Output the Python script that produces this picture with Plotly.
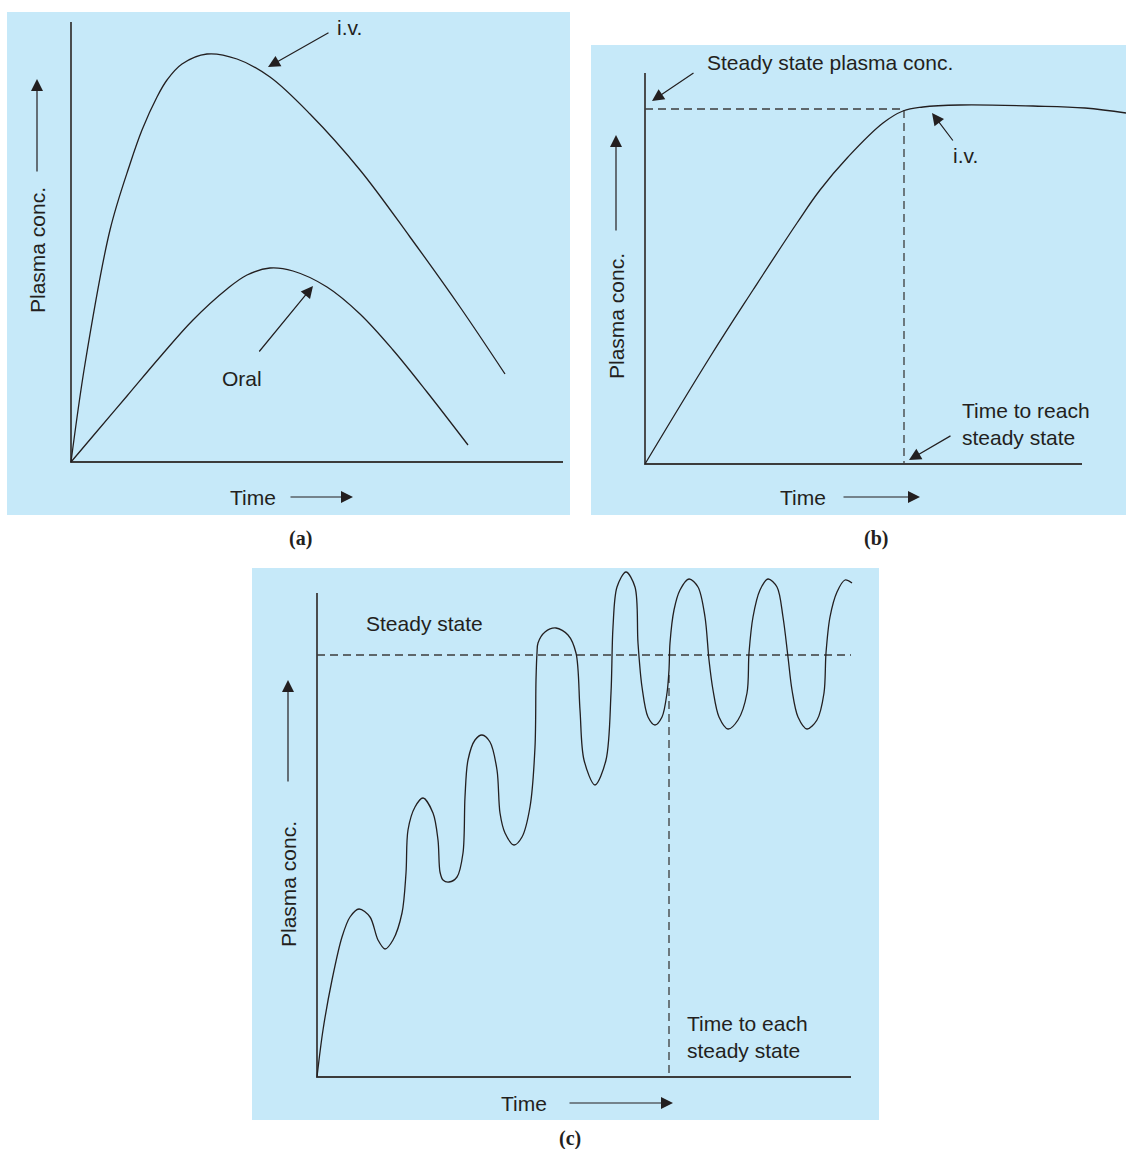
import plotly.graph_objects as go

W, H = 1126, 1149
INK = "#231f20"
AXIS = "#3c3c3c"
BLUE = "#c6e9f9"
SANS = "Liberation Sans, Arial, sans-serif"
SERIF = "Liberation Serif, Times New Roman, serif"

# ---------------- data (arbitrary units) ----------------
# Panel (a): single dose, i.v. vs oral
a_iv_time = [0, 1.4, 3.9, 5.9, 7.1, 8.6, 9.6, 11.1, 13.6, 16.6, 19.9, 23.9, 28.9, 33.9, 38.9, 43.4]
a_iv_conc = [0, 9.8, 23.2, 29.8, 33.2, 36.5, 38.2, 39.8, 40.8, 40.3, 38.5, 34.8, 29.2, 22.5, 15.5, 8.8]
a_oral_time = [0, 2.2, 5.6, 8.9, 12.2, 15.6, 17.6, 19.9, 22.2, 25.6, 28.9, 32.2, 35.6, 39.7]
a_oral_conc = [0, 2.6, 6.6, 10.5, 14.2, 17.3, 18.7, 19.4, 19.1, 17.5, 14.8, 11.2, 7.0, 1.7]
a_time_max = 49.2
a_conc_max = 44.0

# Panel (b): constant i.v. infusion
b_time = [0, 6.5, 10.8, 15.2, 17.5, 20.3, 23.8, 25.8, 27.8, 31.5, 38.8, 44.0, 48.1]
b_conc = [0, 10.7, 17.4, 24.1, 27.4, 30.7, 34.1, 35.3, 35.7, 35.9, 35.8, 35.6, 35.1]
b_css = 35.5
b_tss = 25.9
b_time_max = 43.7
b_conc_max = 39.1

# Panel (c): repeated dosing
c_time = [0, 0.6, 1.5, 2.5, 3.3, 4.2, 5.3, 6.1, 6.8,
          7.6, 8.5, 8.9, 9.1, 9.8, 10.6, 11.6, 12.1, 12.3, 12.6, 13.2,
          14.0, 14.6, 14.8, 15.1, 15.8, 16.5, 17.3, 18.0, 18.3, 18.8, 19.7,
          20.5, 21.3, 21.8, 21.9, 22.0, 22.1, 22.8, 23.9, 25.1, 25.9, 26.3, 26.7, 27.8,
          28.9, 29.4, 29.6, 30.0, 30.9, 31.8, 32.1, 32.5, 33.1, 33.8,
          34.5, 35.0, 35.2, 35.3, 35.7, 36.3, 37.2, 38.1, 38.8, 39.2, 39.6, 40.2, 41.1,
          42.1, 43.0, 43.2, 43.6, 44.3, 45.1, 46.0, 46.6, 47.1, 47.5, 48.1, 49.0,
          50.0, 50.7, 50.9, 51.3, 52.0, 52.8, 53.5]
c_conc = [0, 4.7, 9.7, 14.0, 16.0, 16.8, 16.0, 13.7, 12.8,
          13.7, 16.4, 20.4, 24.7, 27.0, 27.9, 26.4, 23.7, 20.5, 19.7, 19.5,
          20.0, 22.4, 28.0, 31.7, 33.7, 34.2, 33.5, 30.7, 26.4, 24.4, 23.2,
          24.0, 27.0, 33.0, 39.7, 42.4, 43.4, 44.5, 44.9, 44.2, 42.4, 36.7, 31.7, 29.2,
          31.7, 38.4, 45.0, 49.0, 50.5, 49.0, 43.4, 39.0, 36.0, 35.2,
          36.0, 38.4, 40.7, 43.4, 46.7, 48.7, 49.8, 49.0, 46.0, 41.7, 38.7, 36.0, 34.8,
          35.7, 38.4, 42.4, 46.0, 48.7, 49.8, 49.0, 46.0, 42.0, 38.7, 36.0, 34.8,
          35.7, 38.4, 42.4, 46.0, 48.5, 49.7, 49.4]
c_css = 42.2
c_tss = 35.2
c_tss_top = 40.2
c_time_max = 53.4
c_conc_max = 48.4

# ---------------- layout geometry ----------------
# panel pixel boxes (left, top, right, bottom) and axis ranges
panels = {
    "": dict(box=(7, 12, 570, 515), xr=[-6.4, 49.9], yr=[-5.3, 45.0]),
    "2": dict(box=(591, 45, 1126, 515), xr=[-5.4, 48.1], yr=[-5.1, 41.9]),
    "3": dict(box=(252, 568, 879, 1120), xr=[-6.5, 56.2], yr=[-4.3, 50.9]),
}

fig = go.Figure()

def add_line(ref, x, y, color=INK, width=1.3, dash=None, shape="linear", smoothing=None):
    line = dict(color=color, width=width, shape=shape)
    if dash:
        line["dash"] = dash
    if smoothing is not None:
        line["smoothing"] = smoothing
    fig.add_trace(go.Scatter(x=x, y=y, mode="lines", line=line, hoverinfo="skip",
                             showlegend=False, xaxis="x" + ref, yaxis="y" + ref))

DASH = "8px,5px"

# Panel (a)
add_line("", [0, 0, a_time_max], [a_conc_max, 0, 0], color=AXIS, width=1.8)
add_line("", a_iv_time, a_iv_conc, shape="spline", smoothing=1.0)
add_line("", a_oral_time, a_oral_conc, shape="spline", smoothing=1.0)

# Panel (b)
add_line("2", [0, 0, b_time_max], [b_conc_max, 0, 0], color=AXIS, width=1.8)
add_line("2", [0, b_tss, b_tss], [b_css, b_css, 0], color=AXIS, width=1.3, dash=DASH)
add_line("2", b_time, b_conc, shape="spline", smoothing=1.1)

# Panel (c)
add_line("3", [0, 0, c_time_max], [c_conc_max, 0, 0], color=AXIS, width=1.8)
add_line("3", [0, c_time_max], [c_css, c_css], color=AXIS, width=1.3, dash=DASH)
add_line("3", [c_tss, c_tss], [c_tss_top, 0], color=AXIS, width=1.3, dash=DASH)
add_line("3", c_time, c_conc, shape="spline", smoothing=0.9)

annotations = []

def text(ref, x, y, s, xanchor="center", angle=0, align="center"):
    annotations.append(dict(xref="x" + ref, yref="y" + ref, x=x, y=y, text=s,
                            showarrow=False, xanchor=xanchor, yanchor="middle",
                            textangle=angle, align=align,
                            font=dict(family=SANS, size=21, color=INK)))

def arrow(ref, head, tail):
    annotations.append(dict(xref="x" + ref, yref="y" + ref, axref="x" + ref, ayref="y" + ref,
                            x=head[0], y=head[1], ax=tail[0], ay=tail[1], text="",
                            showarrow=True, arrowhead=2, arrowsize=2, arrowwidth=1.2,
                            arrowcolor=INK))

def caption(px, py, s):
    annotations.append(dict(xref="paper", yref="paper", x=px / W, y=1 - py / H, text=s,
                            showarrow=False, xanchor="center", yanchor="middle",
                            font=dict(family=SERIF, size=20, color=INK)))

# (a)
text("", 27.8, 43.5, "i.v.")
arrow("", (19.7, 39.5), (25.9, 43.0))
text("", 17.1, 8.4, "Oral")
arrow("", (24.2, 17.6), (18.7, 10.9))
text("", -3.4, 21.2, "Plasma conc.", angle=-90)
arrow("", (-3.4, 38.3), (-3.4, 28.9))
text("", 18.2, -3.5, "Time")
arrow("", (28.2, -3.5), (21.8, -3.5))
caption(300, 538, "<b>(a)</b>")

# (b)
text("2", 6.0, 40.1, "Steady state plasma conc.", xanchor="left")
arrow("2", (0.7, 36.3), (5.0, 39.2))
text("2", 32.1, 30.8, "i.v.")
arrow("2", (28.7, 35.1), (30.9, 32.2))
text("2", 31.5, 4.0, "Time to reach<br>steady state", xanchor="left", align="left")
arrow("2", (26.4, 0.4), (30.7, 2.9))
text("2", -2.9, 14.8, "Plasma conc.", angle=-90)
arrow("2", (-2.9, 32.9), (-2.9, 23.2))
text("2", 15.8, -3.3, "Time")
arrow("2", (27.5, -3.3), (19.7, -3.3))
caption(876, 538, "<b>(b)</b>")

# (c)
text("3", 10.7, 45.4, "Steady state")
text("3", 36.8, 4.0, "Time to each<br>steady state", xanchor="left", align="left")
text("3", -2.9, 19.3, "Plasma conc.", angle=-90)
arrow("3", (-2.9, 39.7), (-2.9, 29.4))
text("3", 20.7, -2.6, "Time")
arrow("3", (35.6, -2.6), (25.1, -2.6))
caption(570, 1138, "<b>(c)</b>")

layout = dict(width=W, height=H, margin=dict(l=0, r=0, t=0, b=0),
              paper_bgcolor="white", plot_bgcolor=BLUE, showlegend=False,
              annotations=annotations)
for ref, p in panels.items():
    l, t, r, b = p["box"]
    layout["xaxis" + ref] = dict(domain=[l / W, r / W], range=p["xr"], visible=False,
                                 fixedrange=True, anchor="y" + ref)
    layout["yaxis" + ref] = dict(domain=[1 - b / H, 1 - t / H], range=p["yr"], visible=False,
                                 fixedrange=True, anchor="x" + ref)
fig.update_layout(**layout)

fig.write_html("out.html", config={"displayModeBar": False},
               post_script="document.body.style.margin='0';document.body.style.overflow='hidden';")
